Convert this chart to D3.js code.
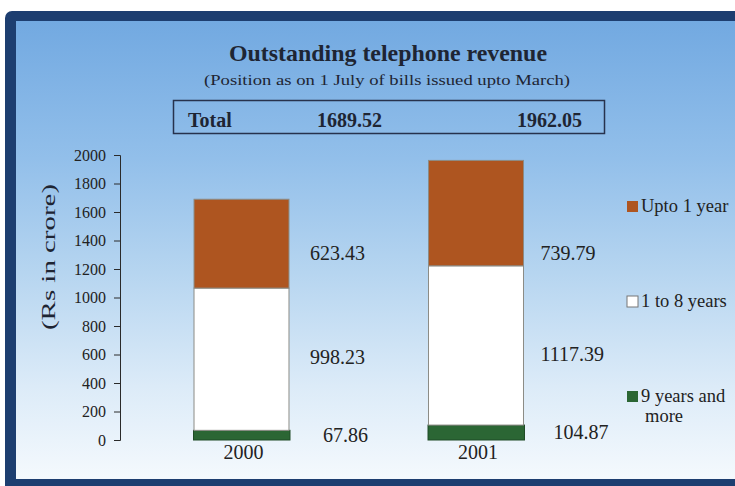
<!DOCTYPE html>
<html>
<head>
<meta charset="utf-8">
<script src="https://cdn.jsdelivr.net/npm/d3@7"></script>
<style>
  html, body { margin: 0; padding: 0; background: #ffffff; }
  svg { display: block; }
  text { font-family: "Liberation Serif", "Times New Roman", serif; }
</style>
</head>
<body>
<svg id="chart" width="735" height="486"></svg>
<script>
// ---- data -------------------------------------------------------------
const years = ["2000", "2001"];
const nineYearsAndMore = [67.86, 104.87];
const oneToEightYears = [998.23, 1117.39];
const uptoOneYear = [623.43, 739.79];
const seriesKeys = ["nine", "oneToEight", "uptoOne"];
const seriesLabels = ["9 years and more", "1 to 8 years", "Upto 1 year"];
const yTickValues = [0, 200, 400, 600, 800, 1000, 1200, 1400, 1600, 1800, 2000];

const titleText = "Outstanding telephone revenue";
const subtitleText = "(Position as on 1 July of bills issued upto March)";
const yAxisTitle = "(Rs in crore)";
const totalLabel = "Total";

// ---- styling -----------------------------------------------------------
const colors = { nine: "#2b6634", oneToEight: "#ffffff", uptoOne: "#ae5520" };
const frameColor = "#1d3e70";
const inkColor = "#1e2533";

const svg = d3.select("#chart");

// background gradient inside the frame
const defs = svg.append("defs");
const grad = defs.append("linearGradient")
  .attr("id", "bg").attr("x1", 0).attr("y1", 0).attr("x2", 0).attr("y2", 1);
[[0, "#72a9e1"], [0.3, "#92bfea"], [0.55, "#b6d5f0"], [0.8, "#dcebf8"], [1, "#f4f9fd"]]
  .forEach(([o, c]) => grad.append("stop").attr("offset", o).attr("stop-color", c));

// frame
svg.append("rect").attr("x", 5).attr("y", 11).attr("width", 780).attr("height", 500)
  .attr("rx", 7).attr("fill", frameColor);
svg.append("rect").attr("x", 16).attr("y", 21).attr("width", 760).attr("height", 457)
  .attr("fill", "url(#bg)");
svg.append("line").attr("x1", 16).attr("x2", 760).attr("y1", 478.5).attr("y2", 478.5)
  .attr("stroke", "#f4f8fc").attr("stroke-width", 1);

// titles
svg.append("text").attr("x", 388).attr("y", 61).attr("text-anchor", "middle")
  .attr("font-size", 24).attr("font-weight", "bold").attr("fill", inkColor)
  .attr("textLength", 318).attr("lengthAdjust", "spacingAndGlyphs")
  .text(titleText);
svg.append("text").attr("x", 387).attr("y", 85).attr("text-anchor", "middle")
  .attr("font-size", 15).attr("fill", inkColor)
  .attr("textLength", 366).attr("lengthAdjust", "spacingAndGlyphs")
  .text(subtitleText);

// ---- stacked data --------------------------------------------------------
const rows = years.map((yr, i) => ({
  year: yr,
  nine: nineYearsAndMore[i],
  oneToEight: oneToEightYears[i],
  uptoOne: uptoOneYear[i]
}));
const totals = rows.map(r => d3.sum(seriesKeys, k => r[k]));
const stacked = d3.stack().keys(seriesKeys)(rows);

// totals box
svg.append("rect").attr("x", 173.5).attr("y", 100.5).attr("width", 431).attr("height", 33)
  .attr("fill", "none").attr("stroke", "#27324d").attr("stroke-width", 1.5);
svg.append("text").attr("x", 188).attr("y", 127).attr("font-size", 20)
  .attr("font-weight", "bold").attr("fill", inkColor).text(totalLabel);
const totalX = [317, 517];
svg.selectAll("text.total").data(totals).join("text")
  .attr("class", "total")
  .attr("x", (d, i) => totalX[i]).attr("y", 127)
  .attr("font-size", 20).attr("font-weight", "bold").attr("fill", inkColor)
  .text(d => d3.format(".2f")(d));

// ---- scales & axes -------------------------------------------------------
const x = d3.scaleBand().domain(years).range([120, 597.5])
  .paddingInner(0.595).paddingOuter(0.3156);
const y = d3.scaleLinear().domain([0, 2000]).range([440, 155]);

const yAxis = svg.append("g").attr("transform", "translate(120,0)")
  .call(d3.axisLeft(y).tickValues(yTickValues).tickFormat(d3.format("d"))
    .tickSize(6).tickPadding(8));
yAxis.attr("font-family", null);
yAxis.select(".domain").attr("stroke", "#2a2a2a");
yAxis.selectAll(".tick line").attr("stroke", "#2a2a2a");
yAxis.selectAll(".tick text").attr("font-size", 16).attr("fill", "#222");

svg.append("text")
  .attr("transform", "translate(55,257) rotate(-90)")
  .attr("text-anchor", "middle").attr("font-size", 18).attr("fill", inkColor)
  .attr("textLength", 146).attr("lengthAdjust", "spacingAndGlyphs")
  .text(yAxisTitle);

// ---- bars ------------------------------------------------------------------
const layers = svg.append("g").selectAll("g").data(stacked).join("g")
  .attr("fill", d => colors[d.key]);
layers.selectAll("rect").data(d => d.map(p => ({ p, key: d.key }))).join("rect")
  .attr("x", d => x(d.p.data.year) - (d.key === "nine" ? 0.5 : 0))
  .attr("width", d => x.bandwidth() + (d.key === "nine" ? 1.5 : 0))
  .attr("y", d => y(d.p[1]))
  .attr("height", d => y(d.p[0]) - y(d.p[1]))
  .attr("stroke", d => d.key === "nine" ? "#1f4a26" : "#8c8c86")
  .attr("stroke-width", 1);

// year labels under bars
svg.selectAll("text.year").data(years).join("text")
  .attr("class", "year")
  .attr("x", d => x(d) + x.bandwidth() / 2 + 2).attr("y", 459)
  .attr("text-anchor", "middle").attr("font-size", 20).attr("fill", "#222")
  .text(d => d);

// value labels beside each segment
const labelRowY = { nine: 442, oneToEight: 364, uptoOne: 260 };
const labelGap = { nine: 34, oneToEight: 21, uptoOne: 21 };
stacked.forEach(layer => {
  svg.selectAll("text.v-" + layer.key).data(layer).join("text")
    .attr("class", "v-" + layer.key)
    .attr("x", (d, i) => x(d.data.year) + x.bandwidth() + labelGap[layer.key] - (i === 1 ? 4 : 0))
    .attr("y", (d, i) => labelRowY[layer.key] - (i === 1 && layer.key !== "uptoOne" ? 3 : 0))
    .attr("font-size", 20).attr("fill", "#222")
    .text(d => d3.format(".2f")(d.data[layer.key]));
});

// ---- legend ------------------------------------------------------------
const legendItems = [
  { key: "uptoOne", lines: ["Upto 1 year"], y: 212 },
  { key: "oneToEight", lines: ["1 to 8 years"], y: 307 },
  { key: "nine", lines: ["9 years and", "more"], y: 402 }
];
const lg = svg.append("g").selectAll("g").data(legendItems).join("g")
  .attr("transform", d => `translate(627,${d.y})`);
lg.append("rect").attr("x", 0).attr("y", -11).attr("width", 11).attr("height", 11)
  .attr("fill", d => colors[d.key])
  .attr("stroke", d => d.key === "oneToEight" ? "#777" : "none");
lg.each(function (d) {
  const t = d3.select(this).append("text").attr("font-size", 18.5).attr("fill", "#222");
  d.lines.forEach((ln, i) => {
    t.append("tspan").attr("x", i === 0 ? 14 : 18).attr("y", i * 20).text(ln);
  });
});
</script>
</body>
</html>
